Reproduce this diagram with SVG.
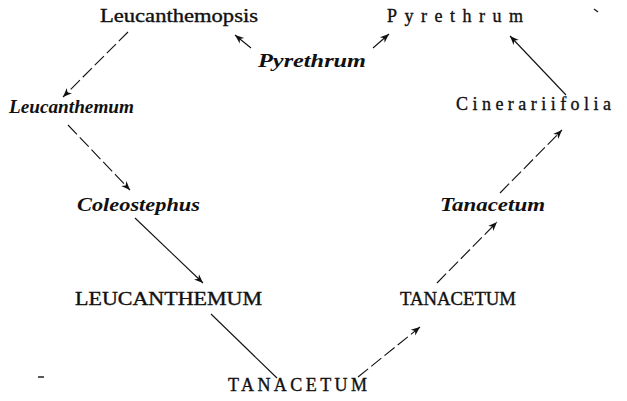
<svg xmlns="http://www.w3.org/2000/svg" width="627" height="401" viewBox="0 0 627 401">
<style>
.u{font-family:"Liberation Serif","DejaVu Serif",serif;font-size:18px;fill:#111;stroke:#111;stroke-width:0.35}
.i{font-family:"Liberation Serif","DejaVu Serif",serif;font-size:19px;font-style:italic;font-weight:bold;fill:#111}
.ln{stroke:#111;stroke-width:1.1;fill:none}
.d{stroke-dasharray:13 4}
.mk{stroke:#222;stroke-width:1.5}
</style>
<defs>
<marker id="ah" viewBox="0 0 10 10" refX="10" refY="5" markerWidth="9" markerHeight="9" markerUnits="userSpaceOnUse" orient="auto">
<path d="M0,1 L10,5 L0,9 L3,5 Z" fill="#111"/>
</marker>
</defs>
<g id="n-leucanthemopsis"><text class="u" x="100" y="22" textLength="158" lengthAdjust="spacingAndGlyphs">Leucanthemopsis</text></g>
<g id="n-pyrethrum-top"><text class="u" x="387" y="22" textLength="136" lengthAdjust="spacing">Pyrethrum</text></g>
<g id="n-pyrethrum-it"><text class="i" x="258" y="67" textLength="108" lengthAdjust="spacingAndGlyphs">Pyrethrum</text></g>
<g id="n-leucanthemum-it"><text class="i" x="9" y="113" textLength="125" lengthAdjust="spacingAndGlyphs">Leucanthemum</text></g>
<g id="n-cinerariifolia"><text class="u" x="456" y="110" textLength="155" lengthAdjust="spacing">Cinerariifolia</text></g>
<g id="n-coleostephus"><text class="i" x="77" y="211" textLength="123" lengthAdjust="spacingAndGlyphs">Coleostephus</text></g>
<g id="n-tanacetum-it"><text class="i" x="440" y="211" textLength="105" lengthAdjust="spacingAndGlyphs">Tanacetum</text></g>
<g id="n-leucanthemum-caps"><text class="u" x="75" y="305" textLength="187" lengthAdjust="spacingAndGlyphs">LEUCANTHEMUM</text></g>
<g id="n-tanacetum-caps"><text class="u" x="400" y="305" textLength="116" lengthAdjust="spacingAndGlyphs">TANACETUM</text></g>
<g id="n-tanacetum-root"><text class="u" x="228" y="391" textLength="139" lengthAdjust="spacing">TANACETUM</text></g>
<g id="connectors">
<line class="ln d" x1="128" y1="32" x2="63" y2="97" marker-end="url(#ah)"/>
<line class="ln" x1="251" y1="48" x2="235" y2="35" marker-end="url(#ah)"/>
<line class="ln" x1="373" y1="48" x2="389" y2="34" marker-end="url(#ah)"/>
<line class="ln" x1="566" y1="95" x2="510" y2="36" marker-end="url(#ah)"/>
<line class="ln d" x1="68" y1="125" x2="130" y2="190" marker-end="url(#ah)"/>
<line class="ln" x1="135" y1="218" x2="203" y2="283" marker-end="url(#ah)"/>
<line class="ln" x1="211" y1="314" x2="277" y2="378"/>
<line class="ln d" x1="358" y1="377" x2="420" y2="327" marker-end="url(#ah)"/>
<line class="ln d" x1="437" y1="283" x2="497" y2="222" marker-end="url(#ah)"/>
<line class="ln d" x1="500" y1="193" x2="562" y2="130" marker-end="url(#ah)"/>
</g>
<line class="mk" x1="38" y1="377" x2="44" y2="377"/>
<line class="mk" x1="594" y1="9" x2="598" y2="12"/>
</svg>
